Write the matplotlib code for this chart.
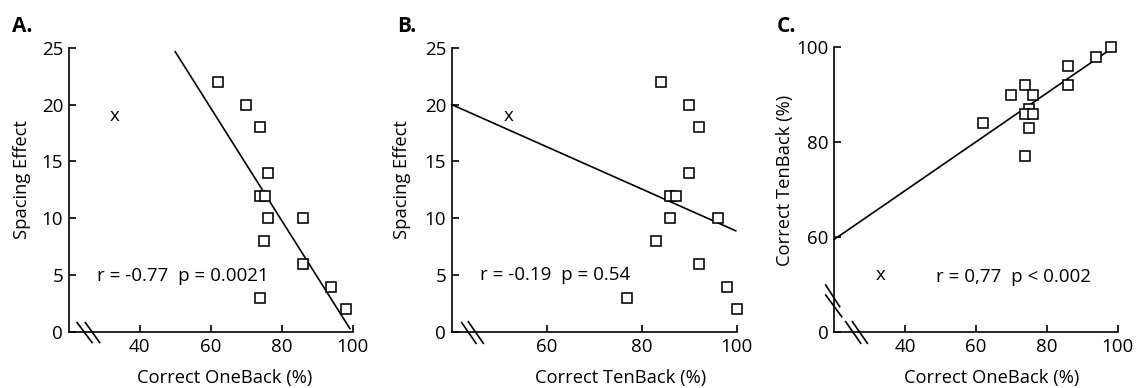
import matplotlib
matplotlib.use("Agg")
import matplotlib.pyplot as plt
import matplotlib.transforms as mtransforms

plt.rcParams['font.family'] = ['Open Sans', 'DejaVu Sans']

# ---------------- data ----------------
# Panel A: Correct OneBack (%) vs Spacing Effect
a_x = [62, 70, 74, 76, 74, 75.3, 76, 86, 75, 86, 94, 98, 74]
a_y = [22, 20, 18, 14, 12, 12, 10, 10, 8, 6, 4, 2, 3]
a_outlier = (33, 19)
a_fit_x = [50, 99.2]
a_fit_y = [24.65, 0.3]
a_stats = "r = -0.77  p = 0.0021"

# Panel B: Correct TenBack (%) vs Spacing Effect
b_x = [84, 90, 92, 90, 86, 87.2, 86, 96, 83, 92, 98, 100, 77]
b_y = [22, 20, 18, 14, 12, 12, 10, 10, 8, 6, 4, 2, 3]
b_outlier = (52, 19)
b_fit_x = [40, 99.8]
b_fit_y = [20.0, 8.9]
b_stats = "r = -0.19  p = 0.54"

# Panel C: Correct OneBack (%) vs Correct TenBack (%)
c_x = [98, 94, 86, 86, 74, 70, 76, 75, 74, 76, 62, 75, 74]
c_y = [100, 98, 96, 92, 92, 90, 90, 87, 86, 86, 84, 83, 77]
c_outlier = (33, 52)
c_fit_x = [20, 98.7]
c_fit_y = [59.5, 99.9]
c_stats = "r = 0,77  p < 0.002"

ab_yticks = [0, 5, 10, 15, 20, 25]
a_xticks = [40, 60, 80, 100]
b_xticks = [60, 80, 100]
c_xticks = [40, 60, 80, 100]
c_yticks = [40, 60, 80, 100]
c_yticklabels = ['0', '60', '80', '100']

# ---------------- figure ----------------
W, H = 1136, 388
fig = plt.figure(figsize=(W / 100, H / 100), dpi=100)

def px_axes(l, r, t, b):
    return fig.add_axes([l / W, 1 - b / H, (r - l) / W, (b - t) / H])

axA = px_axes(68.7, 352.7, 47.7, 332.0)
axB = px_axes(451.7, 736.7, 47.7, 332.0)
axC = px_axes(834.0, 1117.7, 47.0, 332.3)

TICK_FS = 13.5
LAB_FS = 13.2
ANN_FS = 13.5
LW = 1.2

def style(ax):
    for s in ['top', 'right']:
        ax.spines[s].set_visible(False)
    for s in ['left', 'bottom']:
        ax.spines[s].set_linewidth(LW)
    ax.tick_params(direction='in', length=5, width=LW, labelsize=TICK_FS, pad=4)

def brk(ax, x0, y0, x1, y1):
    # coordinates in pixels relative to axes lower-left corner
    tr = fig.dpi_scale_trans + mtransforms.ScaledTranslation(0, 0, ax.transAxes)
    ax.plot([x0 / 100, x1 / 100], [y0 / 100, y1 / 100], color='black', lw=LW,
            transform=tr, clip_on=False)

def scatter(ax, xs, ys):
    ax.plot(xs, ys, linestyle='none', marker='s', markersize=7.2,
            markerfacecolor='white', markeredgecolor='black', markeredgewidth=1.15,
            clip_on=False, zorder=3)

def fitline(ax, xs, ys):
    ax.plot(xs, ys, color='black', lw=LW, clip_on=False, zorder=2)

# Panel A
style(axA)
axA.set_xlim(20, 100)
axA.set_ylim(0, 25)
axA.set_xticks(a_xticks)
axA.set_yticks(ab_yticks)
fitline(axA, a_fit_x, a_fit_y)
scatter(axA, a_x, a_y)
axA.text(a_outlier[0], a_outlier[1], 'x', ha='center', va='center', fontsize=ANN_FS)
axA.text(28, 4.9, a_stats, ha='left', va='center', fontsize=ANN_FS)
axA.set_xlabel('Correct OneBack (%)', fontsize=LAB_FS, va='center')
axA.set_ylabel('Spacing Effect', fontsize=LAB_FS, va='center')
axA.xaxis.set_label_coords(0.55, -0.162)
axA.yaxis.set_label_coords(-0.165, 0.535)
brk(axA, 8.4, 9.4, 23.4, -10.6)
brk(axA, 16.7, 9.4, 31.0, -10.6)

# Panel B
style(axB)
axB.set_xlim(40, 100)
axB.set_ylim(0, 25)
axB.set_xticks(b_xticks)
axB.set_yticks(ab_yticks)
fitline(axB, b_fit_x, b_fit_y)
scatter(axB, b_x, b_y)
axB.text(b_outlier[0], b_outlier[1], 'x', ha='center', va='center', fontsize=ANN_FS)
axB.text(46, 5.0, b_stats, ha='left', va='center', fontsize=ANN_FS)
axB.set_xlabel('Correct TenBack (%)', fontsize=LAB_FS, va='center')
axB.set_ylabel('Spacing Effect', fontsize=LAB_FS, va='center')
axB.xaxis.set_label_coords(0.594, -0.162)
axB.yaxis.set_label_coords(-0.175, 0.535)
brk(axB, 10.0, 9.4, 24.3, -11.3)
brk(axB, 16.6, 10.3, 31.6, -11.3)

# Panel C
style(axC)
axC.set_xlim(20, 100)
axC.set_ylim(40, 100)
axC.set_xticks(c_xticks)
axC.set_yticks(c_yticks)
axC.set_yticklabels(c_yticklabels)
fitline(axC, c_fit_x, c_fit_y)
scatter(axC, c_x, c_y)
axC.text(c_outlier[0], c_outlier[1], 'x', ha='center', va='center', fontsize=ANN_FS)
axC.text(48.9, 51.6, c_stats, ha='left', va='center', fontsize=ANN_FS)
axC.set_xlabel('Correct OneBack (%)', fontsize=LAB_FS, va='center')
axC.set_ylabel('Correct TenBack (%)', fontsize=LAB_FS, va='center')
axC.xaxis.set_label_coords(0.556, -0.160)
axC.yaxis.set_label_coords(-0.173, 0.534)
brk(axC, 11.7, 10.6, 26.7, -11.0)
brk(axC, 18.4, 10.6, 33.4, -11.0)
brk(axC, -8.3, 47.3, 5.7, 25.6)
brk(axC, -8.3, 37.3, 7.7, 15.6)

# Panel letters
for lab, xp in [('A.', 12), ('B.', 397), ('C.', 777)]:
    fig.text(xp / W, 1 - 32 / H, lab, fontsize=15, fontweight='bold',
             ha='left', va='baseline')

fig.savefig('out.png', dpi=100)
